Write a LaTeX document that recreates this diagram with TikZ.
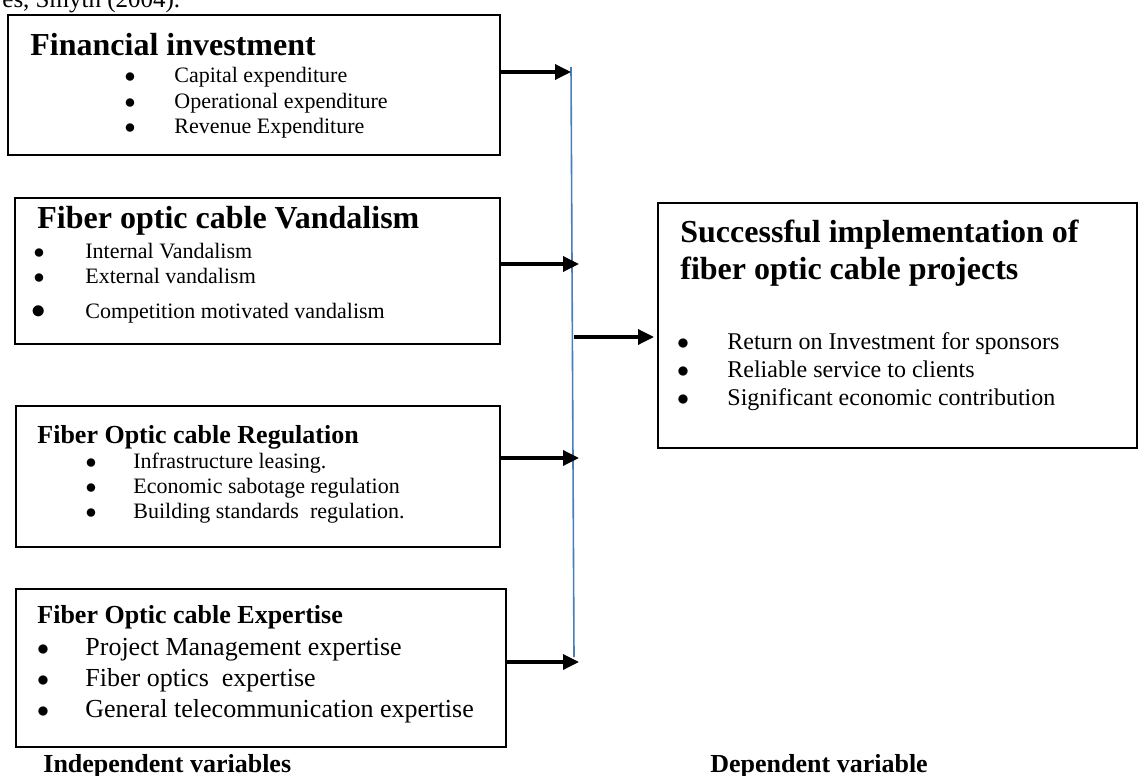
\documentclass[tikz,border=0pt]{standalone}
\usepackage{fontspec}
\setmainfont{Liberation Serif}
\usetikzlibrary{arrows.meta,fit}

\definecolor{barblue}{RGB}{74,126,187}
\newcommand{\sz}[1]{\fontsize{#1}{#1}\selectfont}

\tikzset{
  box/.style={draw, line width=0.8pt, inner sep=0pt},
  arr/.style={line width=1.7pt, -{Triangle[length=8pt,width=7.5pt]}},
  head/.style={anchor=base west, inner sep=0pt, font=\bfseries\sz{16}},
  subhead/.style={anchor=base west, inner sep=0pt, font=\bfseries\sz{13}},
  item/.style={anchor=base west, inner sep=0pt},
  dot/.style={anchor=base, inner sep=0pt}
}

\begin{document}
\begin{tikzpicture}[x=0.5pt,y=-0.5pt]
\useasboundingbox (0,0) rectangle (1147,776);

% citation line running off the top
\node[anchor=base west, inner sep=0pt, font=\sz{12.5}] (cite) at (2,8) {es, Smyth (2004).};

% the five boxes
\node[box, fit={(8,15) (500,155)}] (fin) {};
\node[box, fit={(15,198) (500,344)}] (vand) {};
\node[box, fit={(16,406) (500,547)}] (reg) {};
\node[box, fit={(16,589) (506,747)}] (exp) {};
\node[box, fit={(658,203) (1137,448)}] (succ) {};

% financial investment
\node[head] (fin-h) at (30,55) {Financial investment};
\foreach \t [count=\i] in {Capital expenditure, Operational expenditure, Revenue Expenditure} {
  \node[dot, font=\sz{11}] (fin-d\i) at (130,{58+25*\i}) {$\bullet$};
  \node[item, font=\sz{11}] (fin-t\i) at (174,{58+25*\i}) {\t};
}

% vandalism
\node[head] (vand-h) at (37,228) {Fiber optic cable Vandalism};
\foreach \t [count=\i] in {Internal Vandalism, External vandalism} {
  \node[dot, font=\sz{11}] (vand-d\i) at (39,{233+25*\i}) {$\bullet$};
  \node[item, font=\sz{11}] (vand-t\i) at (85,{233+25*\i}) {\t};
}
\node[dot, font=\sz{14}] (vand-d3) at (39,318) {$\bullet$};
\node[item, font=\sz{11}] (vand-t3) at (85,318) {Competition motivated vandalism};

% regulation
\node[subhead] (reg-h) at (37,443) {Fiber Optic cable Regulation};
\foreach \t [count=\i] in {Infrastructure leasing., Economic sabotage regulation, Building standards\ \ regulation.} {
  \node[dot, font=\sz{11}] (reg-d\i) at (91,{443+25*\i}) {$\bullet$};
  \node[item, font=\sz{11}] (reg-t\i) at (133,{443+25*\i}) {\t};
}

% expertise
\node[subhead] (exp-h) at (37,623) {Fiber Optic cable Expertise};
\foreach \t [count=\i] in {Project Management expertise, Fiber optics\ \ expertise, General telecommunication expertise} {
  \node[dot, font=\sz{13}] (exp-d\i) at (43,{624+31*\i}) {$\bullet$};
  \node[item, font=\sz{13}] (exp-t\i) at (85,{624+31*\i}) {\t};
}

% outcome box
\node[head] (succ-h1) at (680,242) {Successful implementation of};
\node[head] (succ-h2) at (680,279) {fiber optic cable projects};
\foreach \t [count=\i] in {Return on Investment for sponsors, Reliable service to clients, Significant economic contribution} {
  \node[dot, font=\sz{12}] (succ-d\i) at (683,{321+28*\i}) {$\bullet$};
  \node[item, font=\sz{12}] (succ-t\i) at (727,{321+28*\i}) {\t};
}

% collecting bar and arrows
\coordinate (bartop) at (571,67);
\coordinate (barbot) at (574,657);
\draw[barblue, line width=0.8pt] (bartop) -- (barbot);

\coordinate (in1) at (571,72);
\coordinate (in2) at (579,264);
\coordinate (in3) at (579,458);
\coordinate (in4) at (579,662);
\coordinate (out) at (574,337);
\coordinate (outend) at (654,337);
\draw[arr] (fin.east |- in1) -- (in1);
\draw[arr] (vand.east |- in2) -- (in2);
\draw[arr] (reg.east |- in3) -- (in3);
\draw[arr] (exp.east |- in4) -- (in4);
\draw[arr] (out) -- (outend);

% bottom labels
\node[subhead] (indep) at (43,772) {Independent variables};
\node[subhead] (dep) at (710,772) {Dependent variable};
\end{tikzpicture}
\end{document}
